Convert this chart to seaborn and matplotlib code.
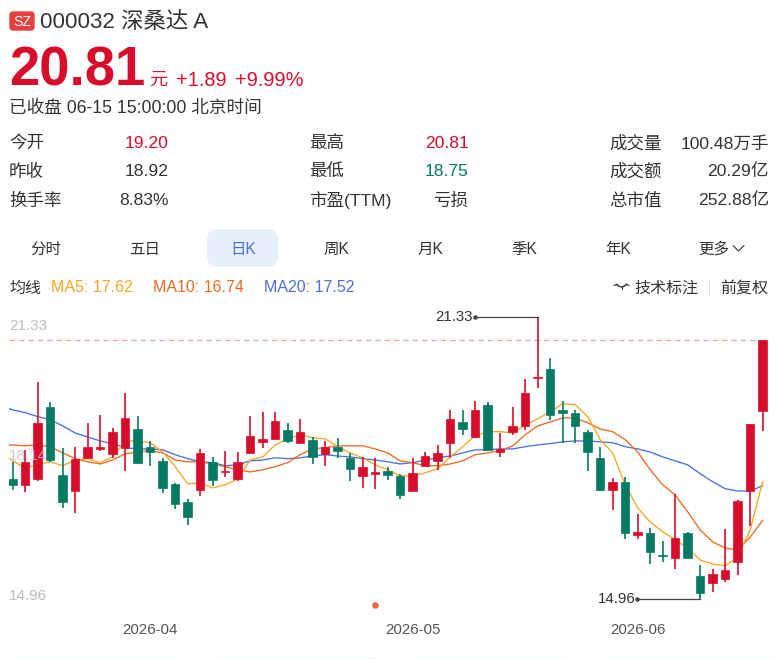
import matplotlib
matplotlib.use("Agg")
import matplotlib.pyplot as plt
from matplotlib.patches import FancyBboxPatch, Rectangle
import numpy as np
import pandas as pd
import seaborn as sns

# Daily session prices for 000032
opens = [17.67, 17.54, 17.67, 19.30, 17.76, 17.40, 18.15, 18.35, 18.24, 18.38, 18.80, 18.40, 18.08, 17.56, 17.15,
         17.43, 18.06, 17.83, 17.67, 18.26, 18.51, 18.58, 18.78, 18.49, 18.56, 18.24, 18.40, 18.15, 17.74, 17.79,
         17.86, 17.74, 17.40, 17.97, 18.08, 18.49, 18.96, 18.62, 19.35, 18.28, 18.74, 18.87, 19.96, 20.16, 19.23,
         19.16, 18.74, 18.15, 17.43, 17.61, 16.41, 16.46, 15.96, 15.89, 16.46, 15.48, 15.32, 15.41, 15.80, 17.40, 19.20]
closes = [17.54, 18.06, 18.94, 18.10, 17.15, 18.13, 18.40, 18.40, 18.74, 19.05, 18.04, 18.28, 17.47, 17.11, 16.81,
          18.26, 17.65, 17.86, 18.06, 18.65, 18.58, 18.98, 18.53, 18.74, 18.17, 18.40, 18.31, 17.90, 17.95, 17.83,
          17.76, 17.31, 17.81, 18.19, 18.26, 19.03, 18.80, 19.23, 18.33, 18.35, 18.87, 19.62, 19.98, 19.12, 19.16,
          18.87, 18.28, 17.43, 17.61, 16.46, 16.48, 16.02, 15.93, 16.34, 15.89, 15.10, 15.53, 15.62, 17.18, 18.92, 20.81]
highs = [18.06, 18.33, 19.87, 19.41, 18.38, 18.40, 18.94, 19.12, 18.83, 19.62, 19.10, 18.53, 18.15, 17.58, 17.22,
         18.35, 18.17, 18.31, 18.28, 19.10, 19.19, 19.19, 18.94, 19.03, 18.62, 18.53, 18.60, 18.26, 18.17, 18.15,
         17.95, 17.79, 18.15, 18.28, 18.44, 19.23, 19.23, 19.44, 19.41, 18.71, 19.30, 19.93, 21.33, 20.41, 19.44,
         19.23, 18.78, 18.40, 17.70, 17.72, 16.88, 16.57, 16.27, 17.34, 16.48, 15.73, 15.64, 16.54, 17.20, 18.92, 20.81]
lows = [17.43, 17.38, 17.63, 18.06, 17.02, 16.91, 18.15, 18.31, 18.15, 17.86, 18.04, 17.97, 17.36, 17.00, 16.63,
        17.29, 17.52, 17.72, 17.63, 18.26, 18.38, 18.58, 18.49, 18.49, 18.01, 17.97, 18.15, 17.63, 17.47, 17.45,
        17.65, 17.22, 17.40, 17.97, 17.88, 18.15, 18.67, 18.60, 18.33, 18.17, 18.67, 18.78, 19.73, 19.01, 18.49,
        18.49, 17.86, 17.40, 16.97, 16.32, 16.32, 15.75, 15.80, 15.64, 15.89, 14.96, 15.12, 15.35, 15.51, 16.60, 18.75]

# Moving averages; the first entry of each belongs to the session just before the window
ma5 = [18.28, 18.08, 17.92, 17.99, 18.06, 17.97, 18.10, 18.13, 18.04, 18.17, 18.53, 18.53, 18.49, 18.28, 17.95, 17.56,
       17.58, 17.47, 17.54, 17.67, 18.10, 18.17, 18.44, 18.58, 18.67, 18.60, 18.58, 18.40, 18.26, 18.15, 17.99,
       17.88, 17.74, 17.74, 17.81, 17.90, 18.17, 18.40, 18.65, 18.74, 18.74, 18.71, 18.89, 19.03, 19.19, 19.37,
       19.35, 19.08, 18.56, 18.26, 17.54, 17.02, 16.70, 16.48, 16.30, 16.11, 15.84, 15.75, 15.71, 15.91, 16.52, 17.62]
ma10 = [18.44, 18.44, 18.42, 18.44, 18.40, 18.26, 18.13, 18.06, 18.01, 18.10, 18.24, 18.28, 18.31, 18.26, 18.10, 18.06,
        18.06, 18.01, 17.95, 17.88, 17.83, 17.88, 17.95, 18.04, 18.22, 18.35, 18.38, 18.42, 18.42, 18.42, 18.35,
        18.26, 18.08, 18.04, 17.97, 17.97, 18.01, 18.08, 18.22, 18.26, 18.31, 18.42, 18.67, 18.87, 18.96, 19.05,
        19.05, 18.94, 18.80, 18.74, 18.56, 18.28, 17.88, 17.54, 17.31, 16.93, 16.52, 16.25, 16.11, 16.07, 16.36, 16.74]
ma20 = [19.33, 19.23, 19.17, 19.08, 19.01, 18.87, 18.71, 18.62, 18.53, 18.47, 18.38, 18.35, 18.35, 18.33, 18.22, 18.13,
        18.06, 18.04, 17.97, 17.99, 18.08, 18.10, 18.15, 18.13, 18.15, 18.19, 18.22, 18.19, 18.17, 18.13, 18.10,
        18.06, 18.01, 18.04, 18.10, 18.15, 18.19, 18.26, 18.33, 18.33, 18.35, 18.35, 18.40, 18.44, 18.47, 18.51,
        18.53, 18.53, 18.51, 18.49, 18.40, 18.35, 18.28, 18.17, 18.08, 17.99, 17.79, 17.61, 17.45, 17.40, 17.40, 17.52]

month_positions = [11, 32, 50]
month_labels = ["2026-04", "2026-05", "2026-06"]
range_high, range_low, range_mid = 21.33, 14.96, 18.14
last_close = 20.81

RED = "#D80C2B"
GREEN = "#067A62"
GOLD = "#F5A623"
ORANGE = "#EE6A1F"
BLUE = "#4B6FE0"
INK = "#333333"
GREY = "#BDBDBD"

sns.set_theme(style="white")
plt.rcParams["font.family"] = ["Liberation Sans", "Noto Sans CJK SC", "DejaVu Sans"]

W, H = 776, 659
fig = plt.figure(figsize=(W / 100, H / 100), dpi=100, facecolor="white")

# Page furniture lives on a pixel-scaled layer beneath the chart
page = fig.add_axes([0, 0, 1, 1], zorder=0)
page.set_xlim(0, W)
page.set_ylim(H, 0)
page.axis("off")


def label(x, y, s, px=17.5, color=INK, ha="left", **kw):
    page.text(x, y, s, fontsize=px * 0.72, color=color, ha=ha, va="center", **kw)


page.add_patch(FancyBboxPatch((10, 12), 24, 18, boxstyle="round,pad=0,rounding_size=3",
                              fc="#E8403F", ec="#E8403F", lw=1))
label(22, 22, "SZ", px=14, color="white", ha="center")
label(40, 22.5, "000032 深桑达 A", px=22.4)

label(9, 72, "20.81", px=54.5, color=RED, fontweight="bold")
label(149, 80, "元", px=18, color=RED)
label(176, 80, "+1.89", px=20, color=RED)
label(235, 80, "+9.99%", px=20, color=RED)
label(9, 109, "已收盘 06-15 15:00:00 北京时间", px=17.6)

rows = [143.5, 171.5, 200.5]
for y, name, value, col in zip(rows, ["今开", "昨收", "换手率"], ["19.20", "18.92", "8.83%"], [RED, INK, INK]):
    label(9, y, name)
    label(168.5, y, value, color=col, ha="right")
for y, name, value, col in zip(rows, ["最高", "最低", "市盈(TTM)"], ["20.81", "18.75", "亏损"], [RED, GREEN, INK]):
    label(309, y, name)
    label(468.5, y, value, color=col, ha="right")
for y, name, value in zip(rows, ["成交量", "成交额", "总市值"], ["100.48万手", "20.29亿", "252.88亿"]):
    label(609, y, name)
    label(769, y, value, ha="right")

page.add_patch(FancyBboxPatch((207, 229), 71, 38, boxstyle="round,pad=0,rounding_size=11",
                              fc="#E6F0FC", ec="none"))
for x, tab in zip([46, 145, 243, 336, 430, 524, 618], ["分时", "五日", "日K", "周K", "月K", "季K", "年K"]):
    label(x, 249.5, tab, px=15.5, color="#4A6FD8" if tab == "日K" else INK, ha="center")
label(698, 249.5, "更多", px=15.5)
page.plot([733, 738.5, 744], [245.5, 251, 245.5], color=INK, lw=0.8)

label(9, 288.5, "均线", px=16)
label(51, 288, "MA5: 17.62", px=16, color=GOLD)
label(153, 288, "MA10: 16.74", px=16, color=ORANGE)
label(264, 288, "MA20: 17.52", px=16, color=BLUE)
# Closed-eye glyph beside the annotation toggle
page.plot([616, 619, 621.5, 624, 627], [284, 286.3, 287, 286.3, 284], color=INK, lw=1.0)
page.plot([614, 617], [285.5, 284.5], color=INK, lw=0.8)
page.plot([626, 629], [284.5, 285.5], color=INK, lw=0.8)
page.plot([621.5, 621.5], [287, 289], color=INK, lw=0.8)
label(634, 288, "技术标注", px=16)
page.plot([709, 709], [279, 295], color="#E4E4E4", lw=0.8)
label(720, 288, "前复权", px=16)

label(9, 326, f"{range_high:.2f}", px=15.3, color=GREY)
label(9, 596, f"{range_low:.2f}", px=15.3, color=GREY)

# Pale tiles peeking in at the foot of the page
for x_start, x_end in [(15, 178), (213, 375), (415, 570), (607, 772)]:
    page.add_patch(Rectangle((x_start, 657.5), x_end - x_start, 2, fc="#F4F6FE", ec="none"))

# Candlestick panel: one session every 12.5 px, 44.27 px per yuan
left, right, top, bottom = 9, 769, 305, 612
x0, step = 12.7, 12.5
scale = (599 - 317) / (range_high - range_low)
ax = fig.add_axes([left / W, 1 - bottom / H, (right - left) / W, (bottom - top) / H], zorder=1)
ax.patch.set_alpha(0)
ax.set_xlim((left - x0) / step, (right - x0) / step)
ax.set_ylim(range_low - (bottom - 599) / scale, range_high + (317 - top) / scale)
sns.despine(ax=ax, left=True, bottom=True, top=True, right=True)

frame = pd.DataFrame({"day": np.arange(len(opens)), "open": opens, "close": closes,
                      "high": highs, "low": lows})
frame["body"] = frame["close"] - frame["open"]
colors = np.where(frame["close"] >= frame["open"], RED, GREEN)
averages = pd.DataFrame({"day": np.arange(-1, len(opens)), "MA5": ma5, "MA10": ma10, "MA20": ma20})

ax.axhline(last_close, color="#F0A3A6", lw=0.9, dashes=(4.5, 3), zorder=1)
for name, col in [("MA20", BLUE), ("MA10", ORANGE), ("MA5", GOLD)]:
    sns.lineplot(data=averages, x="day", y=name, color=col, lw=0.95, ax=ax, zorder=2, legend=False)
ax.vlines(frame["day"], frame["low"], frame["high"], colors=colors, lw=1.2, zorder=3)
ax.bar(frame["day"], frame["body"], bottom=frame["open"], width=0.68, color=colors,
       edgecolor=colors, linewidth=0.5, zorder=4)

# Leaders to the period high and low
hi_day = int(np.argmax(highs))
lo_day = int(np.argmin(lows))
ax.plot([hi_day - 63 / step, hi_day], [range_high, range_high], color="#444444", lw=0.9, zorder=3)
ax.plot([lo_day - 63 / step, lo_day], [range_low, range_low], color="#444444", lw=0.9, zorder=3)
ax.scatter([hi_day - 63 / step, lo_day - 63 / step], [range_high, range_low], s=5, color="#444444", zorder=5)
ax.text(hi_day - 65 / step, range_high, f"{range_high:.2f}", fontsize=15 * 0.72, color=INK,
        ha="right", va="center")
ax.text(lo_day - 65 / step, range_low, f"{range_low:.2f}", fontsize=15 * 0.72, color=INK,
        ha="right", va="center")

# Event marker under the candles
ax.scatter([29], [range_low - 6 / scale], s=22, color="#F0643C", linewidth=0, zorder=5)

ax.set_xticks(month_positions)
ax.set_xticklabels(month_labels, fontsize=15 * 0.72, color="#555555")
ax.set_yticks([])
ax.tick_params(axis="x", length=0, pad=8)
ax.set_xlabel("")
ax.set_ylabel("")

# Mid-range price sits translucently over the candles
fig.text(9 / W, 1 - 456.5 / H, f"{range_mid:.2f}", fontsize=15.3 * 0.72, color="#C4C4CC", alpha=0.85,
         ha="left", va="center", zorder=5)

fig.savefig("out.png", dpi=100, facecolor="white")
